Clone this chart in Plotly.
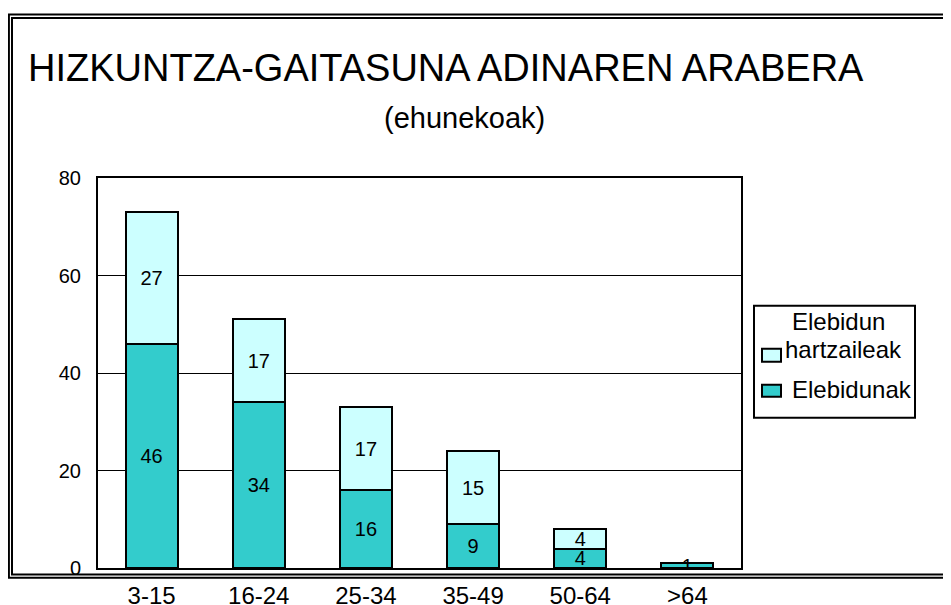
import plotly.graph_objects as go

categories = ["3-15", "16-24", "25-34", "35-49", "50-64", ">64"]
elebidunak = [46, 34, 16, 9, 4, 1]
hartzaileak = [27, 17, 17, 15, 4, 0]
title_text = "HIZKUNTZA-GAITASUNA ADINAREN ARABERA"
subtitle_text = "(ehunekoak)"
y_ticks = [0, 20, 40, 60, 80]

OFF = 8  # page offset of the plot div (body margin)
PW, PH = 951, 605
W, H = PW - OFF, PH - OFF
L, R, T, B = 98, 741, 178, 568.5  # plot area in page pixels
FONT = "Liberation Sans, Arial, sans-serif"
DARK = "#33CCCC"
LIGHT = "#CCFFFF"


def px(xp):
    return (xp - L) / (R - L)


def py(yp):
    return (B - yp) / (B - T)


def labels(vals):
    return [str(v) if v > 0 else "" for v in vals]


fig = go.Figure()
fig.add_trace(go.Bar(x=categories, y=elebidunak, name="Elebidunak",
                     marker=dict(color=DARK, line=dict(color="black", width=2)),
                     text=labels(elebidunak), textposition="inside",
                     insidetextanchor="middle", textangle=0,
                     textfont=dict(size=20, color="black", family=FONT),
                     showlegend=False, width=0.485))
fig.add_trace(go.Bar(x=categories, y=hartzaileak, name="Elebidun hartzaileak",
                     marker=dict(color=LIGHT, line=dict(color="black", width=2)),
                     text=labels(hartzaileak), textposition="inside",
                     insidetextanchor="middle", textangle=0,
                     textfont=dict(size=20, color="black", family=FONT),
                     showlegend=False, width=0.485))

shapes = []
# double frame
for (x0, y0, y1) in [(8.9, 14.3, 578.3), (12.0, 17.8, 575.0)]:
    shapes.append(dict(type="rect", xref="paper", yref="paper",
                       x0=px(x0), x1=px(990), y0=py(y0), y1=py(y1),
                       line=dict(color="black", width=2), fillcolor="rgba(0,0,0,0)",
                       layer="above"))
# legend box
shapes.append(dict(type="rect", xref="paper", yref="paper",
                   x0=px(754), x1=px(915), y0=py(306), y1=py(418),
                   line=dict(color="black", width=2), fillcolor="white", layer="above"))
# legend swatches
shapes.append(dict(type="rect", xref="paper", yref="paper",
                   x0=px(762), x1=px(781), y0=py(349), y1=py(362),
                   line=dict(color="black", width=2), fillcolor=LIGHT, layer="above"))
shapes.append(dict(type="rect", xref="paper", yref="paper",
                   x0=px(762), x1=px(781), y0=py(385), y1=py(397),
                   line=dict(color="black", width=2), fillcolor=DARK, layer="above"))

annotations = [
    dict(text=title_text, xref="paper", yref="paper", x=px(26), y=py(68),
         xanchor="left", yanchor="middle", showarrow=False,
         font=dict(size=38, color="black", family=FONT)),
    dict(text=subtitle_text, xref="paper", yref="paper", x=px(464), y=py(118),
         xanchor="center", yanchor="middle", showarrow=False,
         font=dict(size=29, color="black", family=FONT)),
    dict(text="Elebidun", xref="paper", yref="paper", x=px(838), y=py(322),
         xanchor="center", yanchor="middle", showarrow=False,
         font=dict(size=24, color="black", family=FONT)),
    dict(text="hartzaileak", xref="paper", yref="paper", x=px(783), y=py(350),
         xanchor="left", yanchor="middle", showarrow=False,
         font=dict(size=24, color="black", family=FONT)),
    dict(text="Elebidunak", xref="paper", yref="paper", x=px(790), y=py(390),
         xanchor="left", yanchor="middle", showarrow=False,
         font=dict(size=24, color="black", family=FONT)),
]

fig.update_layout(
    width=W, height=H,
    margin=dict(l=L - OFF, r=W - (R - OFF), t=T - OFF, b=H - (B - OFF), pad=0),
    barmode="stack",
    paper_bgcolor="white", plot_bgcolor="white",
    shapes=shapes, annotations=annotations,
    uniformtext=dict(minsize=20, mode="show"),
    showlegend=False,
    font=dict(family=FONT, color="black"),
)
fig.update_xaxes(showline=True, linecolor="black", linewidth=2, mirror=True,
                 ticks="", showgrid=False, automargin=False,
                 tickfont=dict(size=24, color="black", family=FONT),
                 ticklabelstandoff=5)
fig.update_yaxes(range=[0, 80], tickvals=y_ticks, showline=True, linecolor="black",
                 linewidth=2, mirror=True, ticks="", showgrid=True, automargin=False,
                 gridcolor="black", gridwidth=1, zeroline=False,
                 tickfont=dict(size=20, color="black", family=FONT),
                 ticklabelstandoff=11)

fig.write_html("out.html")
